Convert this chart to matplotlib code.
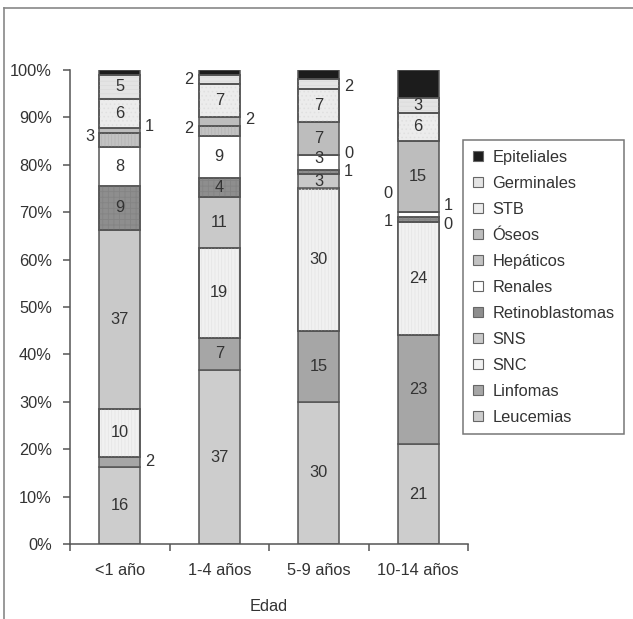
import matplotlib
matplotlib.use("Agg")
import matplotlib.pyplot as plt
from matplotlib.patches import Patch
from matplotlib.lines import Line2D
import numpy as np

plt.rcParams['font.family'] = ['Liberation Sans', 'DejaVu Sans']
plt.rcParams['hatch.linewidth'] = 0.6

age_groups = ["<1 año", "1-4 años", "5-9 años", "10-14 años"]
categories = ["Leucemias", "Linfomas", "SNC", "SNS", "Retinoblastomas", "Renales",
              "Hepáticos", "Óseos", "STB", "Germinales", "Epiteliales"]

leucemias = [16, 37, 30, 21]
linfomas = [2, 7, 15, 23]
snc = [10, 19, 30, 24]
sns_ = [37, 11, 3, 0]
retinoblastomas = [9, 4, 1, 1]
renales = [8, 9, 3, 1]
hepaticos = [3, 2, 0, 0]
oseos = [1, 2, 7, 15]
stb = [6, 7, 7, 6]
germinales = [5, 2, 2, 3]
epiteliales = [1, 1, 2, 6]

series = [leucemias, linfomas, snc, sns_, retinoblastomas, renales,
          hepaticos, oseos, stb, germinales, epiteliales]

# styles
face = ["#cdcdcd", "#a6a6a6", "#f1f1f1", "#c9c9c9", "#8e8e8e", "#ffffff",
        "#c2c2c2", "#bdbdbd", "#ececec", "#e4e4e4", "#1c1c1c"]
hatches = [None, None, "|||||", None, "+++", None, "|||||", None, "....", "----", None]
hatchcol = [None, None, "#e6e6e6", None, "#848484", None, "#b6b6b6", None, "#e0e0e0", "#dcdcdc", None]

# label placement: c=center, l=left, r=right, n=none ; dy in %
place = [
    ["c", "r", "c", "c", "c", "c", "l", "r", "c", "c", "r"],
    ["c", "c", "c", "c", "c", "c", "l", "r", "c", "l", "r"],
    ["c", "c", "c", "c", "r", "c", "r", "c", "c", "r", "r"],
    ["c", "c", "c", "r", "l", "r", "l", "c", "c", "c", "n"],
]
dys = [
    [0, 0, 0, 0, 0, 0, 0.8, 0.8, 0, 0, 1.2],
    [0, 0, 0, 0, 0, 0, 0.6, 0.4, 0, 0, 0.7],
    [0, 0, 0, 0, 0, 0.8, 0.4, 0, 0, -0.4, 1.4],
    [0, 0, 0, -0.6, -0.5, 2.0, 4.0, 0, 0, 0, 0],
]

data = np.array(series, dtype=float)
totals = data.sum(axis=0)
pct = data / totals

FS = 11.8
W, H = 633, 619
fig = plt.figure(figsize=(W / 100, H / 100), dpi=100)
ax = fig.add_axes([70 / W, 1 - 544 / H, (468 - 70) / W, (544 - 70) / H])

x = np.arange(len(age_groups))
bw = 0.41
bottom = np.zeros(len(age_groups))
for i, cat in enumerate(categories):
    ax.bar(x, pct[i], bw, bottom=bottom, color=face[i], edgecolor="#555555",
           linewidth=1.1, zorder=2)
    if hatches[i]:
        ax.bar(x, pct[i], bw, bottom=bottom, fill=False, edgecolor=hatchcol[i],
               hatch=hatches[i], linewidth=0, zorder=2.5)
        ax.bar(x, pct[i], bw, bottom=bottom, fill=False, edgecolor="#555555",
               linewidth=1.1, zorder=3)
    for j in range(len(age_groups)):
        p = place[j][i]
        if p == "n":
            continue
        yc = bottom[j] + pct[i][j] / 2 + dys[j][i] / 100
        lbl = str(series[i][j])
        if p == "c":
            ax.text(x[j], yc, lbl, ha="center", va="center", fontsize=FS,
                    color="#333333", zorder=4)
        elif p == "r":
            ax.annotate(lbl, (x[j] + bw / 2, yc), xytext=(5, 0),
                        textcoords="offset pixels", ha="left", va="center",
                        fontsize=FS, color="#333333")
        else:
            ax.annotate(lbl, (x[j] - bw / 2, yc), xytext=(-5, 0),
                        textcoords="offset pixels", ha="right", va="center",
                        fontsize=FS, color="#333333")
    bottom += pct[i]

ax.set_xlim(-0.5, len(age_groups) - 0.5)
ax.set_ylim(0, 1)
ax.set_yticks(np.arange(0, 1.01, 0.1))
ax.set_yticklabels([f"{int(v)}%" for v in np.arange(0, 101, 10)])
ax.set_xticks(x)
ax.set_xticklabels(age_groups)
ax.set_xticks(np.arange(-0.5, len(age_groups), 1), minor=True)
ax.tick_params(axis="x", which="major", length=0, pad=14, labelsize=FS, labelcolor="#333333")
ax.tick_params(axis="x", which="minor", length=5, width=1.1, color="#555555", direction="out")
ax.tick_params(axis="y", length=5, width=1.1, color="#555555", labelsize=FS,
               labelcolor="#333333", pad=8)
for s in ["top", "right"]:
    ax.spines[s].set_visible(False)
for s in ["left", "bottom"]:
    ax.spines[s].set_color("#555555")
    ax.spines[s].set_linewidth(1.1)
ax.set_xlabel("Edad", fontsize=FS, color="#333333", labelpad=15)

handles = [Patch(facecolor=face[i], edgecolor="#666666", linewidth=0.8)
           for i in range(len(categories))][::-1]
leg = fig.legend(handles, categories[::-1], loc="upper left",
                 bbox_to_anchor=(463 / W, 1 - 140 / H), frameon=True, fancybox=False,
                 fontsize=FS, handlelength=0.6, handleheight=0.6, handletextpad=0.6,
                 labelspacing=0.67, borderpad=0.6, borderaxespad=0,
                 labelcolor="#333333")
leg.get_frame().set_edgecolor("#555555")
leg.get_frame().set_linewidth(1.1)

# outer frame
fig.add_artist(Line2D([4 / W, 1], [1 - 8 / H, 1 - 8 / H], transform=fig.transFigure,
                      color="#888888", linewidth=1.2))
fig.add_artist(Line2D([4 / W, 4 / W], [0, 1 - 8 / H], transform=fig.transFigure,
                      color="#888888", linewidth=1.2))

fig.savefig("out.png", dpi=100)
